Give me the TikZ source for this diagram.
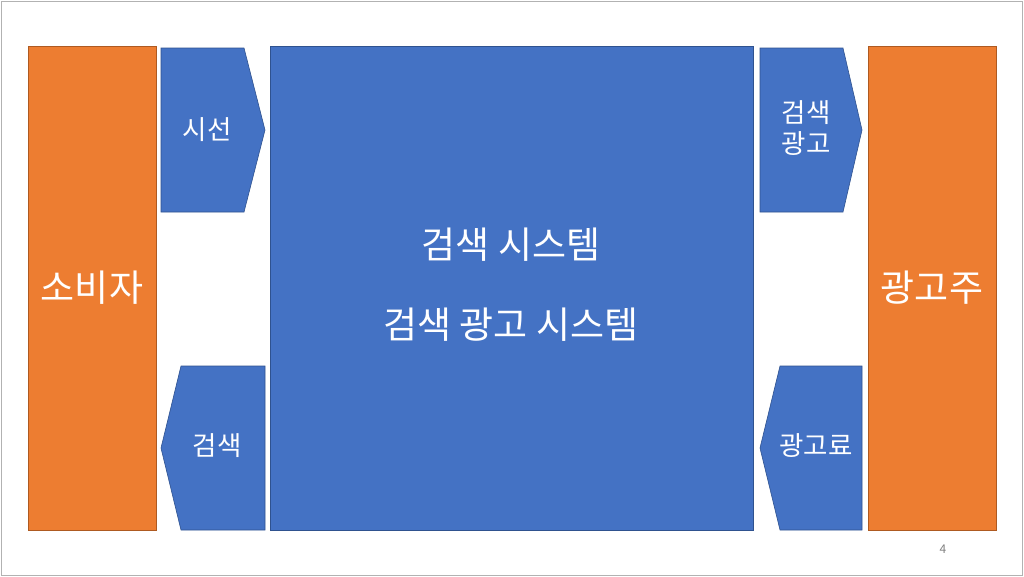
\documentclass[tikz,border=0pt]{standalone}
\usepackage{fontspec}
\setmainfont{Noto Sans CJK KR}
\definecolor{slideblue}{HTML}{4472C4}
\definecolor{blueedge}{HTML}{2F528F}
\definecolor{slideorange}{HTML}{ED7D31}
\definecolor{orangeedge}{HTML}{AE5A21}
\tikzset{
  bluepart/.style={fill=slideblue, draw=blueedge, line width=0.6pt},
  orangepart/.style={fill=slideorange, draw=orangeedge, line width=0.6pt},
  bigtext/.style={text=white, font=\fontsize{37}{44}\selectfont},
  smalltext/.style={text=white, font=\fontsize{26.5}{31}\selectfont, align=center}
}
\begin{document}
\begin{tikzpicture}[x=1pt, y=-1pt]
    % slide frame
    \useasboundingbox (0,0) rectangle (1024,576);
    \fill[white] (0,0) rectangle (1024,576);
    \draw[gray!60, line width=1pt] (1,1) rectangle (1022,575);

    % actors
    \draw[orangepart] (28,46) rectangle (156,530);
    \node[bigtext] (consumer) at (92,288) {소비자};
    \draw[orangepart] (868,46) rectangle (996,530);
    \node[bigtext] (advertiser) at (932,288) {광고주};

    % search system
    \draw[bluepart] (270,46) rectangle (753,530);
    \node[bigtext] (system) at (511,245) {검색 시스템};
    \node[bigtext] (adsystem) at (511,325) {검색 광고 시스템};

    % flows on the left
    \draw[bluepart] (161,48) -- (244,48) -- (265,130) -- (244,212) -- (161,212) -- cycle;
    \node[smalltext] (attention) at (207,130) {시선};
    \draw[bluepart] (181,366) -- (265,366) -- (265,530) -- (181,530) -- (161,448) -- cycle;
    \node[smalltext] (query) at (217,446) {검색};

    % flows on the right
    \draw[bluepart] (760,48) -- (843,48) -- (862,130) -- (843,212) -- (760,212) -- cycle;
    \node[smalltext] (searchad) at (806,128) {검색\\광고};
    \draw[bluepart] (780,366) -- (862,366) -- (862,530) -- (780,530) -- (760,448) -- cycle;
    \node[smalltext] (adfee) at (816,446) {광고료};

    % page number
    \node[text=gray, font=\fontsize{12}{14}\selectfont] (pagenum) at (943,549) {4};
\end{tikzpicture}
\end{document}
